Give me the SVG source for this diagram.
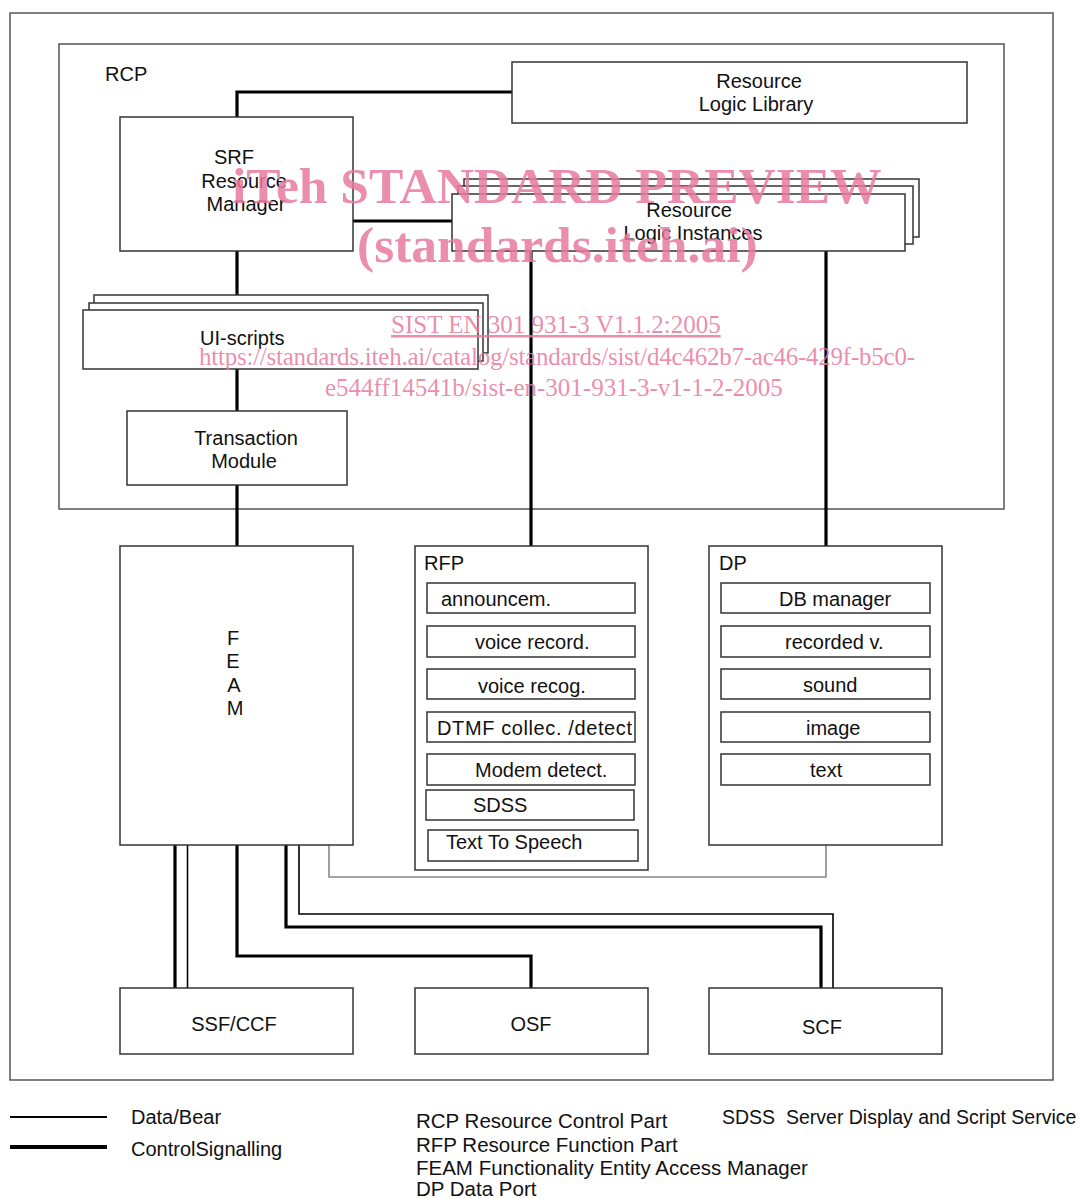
<svg xmlns="http://www.w3.org/2000/svg" width="1083" height="1198" viewBox="0 0 1083 1198">
<style>
  .frame { fill: none; stroke: #555; stroke-width: 1.5; }
  .box { fill: #fff; stroke: #333; stroke-width: 1.5; }
  .t { font-family: "Liberation Sans", Arial, sans-serif; font-size: 20px; fill: #111; }
  .lg { font-size: 20.5px; }
  .m { text-anchor: middle; }
  .thick { fill: none; stroke: #000; stroke-width: 3.2; }
  .thin { fill: none; stroke: #000; stroke-width: 1.6; }
  .gray { fill: none; stroke: #888; stroke-width: 1.6; }
  .wm { font-family: "Liberation Serif", "Times New Roman", serif; fill: #e8799d; fill-opacity: 0.85; }
  .wmb { font-weight: bold; font-size: 51.5px; }
  .wms { font-size: 25px; }
</style>
<rect x="0" y="0" width="1083" height="1198" fill="#fff"/>
<rect class="frame" x="10" y="13" width="1043" height="1067"/>
<g id="rcp">
  <rect class="frame" x="59" y="44" width="945" height="465"/>
  <text class="t" x="105" y="81">RCP</text>
</g>

<g id="connectors">
  <polyline class="thick" points="237,117 237,92 512,92"/>
  <line class="thick" x1="353" y1="221" x2="452" y2="221"/>
  <line class="thick" x1="237" y1="251" x2="237" y2="296"/>
  <line class="thick" x1="237" y1="369" x2="237" y2="411"/>
  <line class="thick" x1="237" y1="485" x2="237" y2="546"/>
  <line class="thick" x1="531" y1="251" x2="531" y2="546"/>
  <line class="thick" x1="826" y1="251" x2="826" y2="546"/>
  <line class="thick" x1="175" y1="845" x2="175" y2="988"/>
  <line class="thin" x1="187.5" y1="845" x2="187.5" y2="988"/>
  <polyline class="thick" points="237,845 237,956 531,956 531,988"/>
  <polyline class="thick" points="286,845 286,927 821,927 821,988"/>
  <polyline class="thin" points="299,845 299,914 833,914 833,988"/>
  <polyline class="gray" points="826,845 826,877 329,877 329,845"/>
</g>

<g id="resource-logic-library">
  <rect class="box" x="512" y="62" width="455" height="61"/>
  <text class="t m" x="759" y="88">Resource</text>
  <text class="t m" x="756" y="111">Logic Library</text>
</g>

<g id="srf-resource-manager">
  <rect class="box" x="120" y="117" width="233" height="134"/>
  <text class="t m" x="234" y="164">SRF</text>
  <text class="t m" x="244" y="188">Resource</text>
  <text class="t m" x="246" y="211">Manager</text>
</g>

<g id="resource-logic-instances">
  <rect class="box" x="464" y="179" width="455" height="58"/>
  <rect class="box" x="458" y="186" width="455" height="58"/>
  <rect class="box" x="452" y="194" width="453" height="57"/>
  <text class="t m" x="689" y="217">Resource</text>
  <text class="t m" x="693" y="240">Logic Instances</text>
</g>

<g id="ui-scripts">
  <rect class="box" x="94" y="295" width="394" height="58"/>
  <rect class="box" x="89" y="303" width="394" height="58"/>
  <rect class="box" x="83" y="310" width="395" height="59"/>
  <text class="t" x="200" y="345">UI-scripts</text>
</g>

<g id="transaction-module">
  <rect class="box" x="127" y="411" width="220" height="74"/>
  <text class="t m" x="246" y="445">Transaction</text>
  <text class="t m" x="244" y="468">Module</text>
</g>

<g id="feam">
  <rect class="box" x="120" y="546" width="233" height="299"/>
  <text class="t m" x="233" y="645">F</text>
  <text class="t m" x="233" y="668">E</text>
  <text class="t m" x="234" y="692">A</text>
  <text class="t m" x="235" y="715">M</text>
</g>

<g id="rfp">
  <rect class="box" x="415" y="546" width="233" height="324"/>
  <text class="t" x="424" y="570">RFP</text>
  <rect class="box" x="427" y="583" width="208" height="30"/>
  <text class="t" x="441" y="606">announcem.</text>
  <rect class="box" x="427" y="626" width="208" height="31"/>
  <text class="t" x="475" y="649">voice record.</text>
  <rect class="box" x="427" y="669" width="208" height="30"/>
  <text class="t" x="478" y="693">voice recog.</text>
  <rect class="box" x="427" y="712" width="208" height="30"/>
  <text class="t" x="437" y="735" textLength="195">DTMF collec. /detect</text>
  <rect class="box" x="427" y="754" width="208" height="31"/>
  <text class="t" x="475" y="777">Modem detect.</text>
  <rect class="box" x="426" y="790" width="208" height="30"/>
  <text class="t" x="473" y="812">SDSS</text>
  <rect class="box" x="428" y="830" width="210" height="31"/>
  <text class="t" x="446" y="849">Text To Speech</text>
</g>

<g id="dp">
  <rect class="box" x="709" y="546" width="233" height="299"/>
  <text class="t" x="719" y="570">DP</text>
  <rect class="box" x="721" y="583" width="209" height="30"/>
  <text class="t" x="779" y="606">DB manager</text>
  <rect class="box" x="721" y="626" width="209" height="31"/>
  <text class="t" x="785" y="649">recorded v.</text>
  <rect class="box" x="721" y="669" width="209" height="30"/>
  <text class="t" x="803" y="692">sound</text>
  <rect class="box" x="721" y="712" width="209" height="30"/>
  <text class="t" x="806" y="735">image</text>
  <rect class="box" x="721" y="754" width="209" height="31"/>
  <text class="t" x="810" y="777">text</text>
</g>

<g id="ssf-ccf">
  <rect class="box" x="120" y="988" width="233" height="66"/>
  <text class="t m" x="234" y="1031">SSF/CCF</text>
</g>
<g id="osf">
  <rect class="box" x="415" y="988" width="233" height="66"/>
  <text class="t m" x="531" y="1031">OSF</text>
</g>
<g id="scf">
  <rect class="box" x="709" y="988" width="233" height="66"/>
  <text class="t m" x="822" y="1034">SCF</text>
</g>

<g id="legend">
  <line x1="10" y1="1117" x2="107" y2="1117" stroke="#000" stroke-width="2"/>
  <line x1="10" y1="1147" x2="107" y2="1147" stroke="#000" stroke-width="4"/>
  <text class="t" x="131" y="1124">Data/Bear</text>
  <text class="t" x="131" y="1156">ControlSignalling</text>
  <text class="t lg" x="416" y="1128">RCP Resource Control Part</text>
  <text class="t lg" x="416" y="1152">RFP Resource Function Part</text>
  <text class="t lg" x="416" y="1175">FEAM Functionality Entity Access Manager</text>
  <text class="t lg" x="416" y="1196">DP Data Port</text>
  <text class="t" x="722" y="1124" style="font-size:19.5px">SDSS&#160; Server Display and Script Service</text>
</g>

<g id="watermark">
  <text class="wm wmb" x="232" y="203">iTeh STANDARD PREVIEW</text>
  <text class="wm wmb" x="357" y="262">(standards.iteh.ai)</text>
  <text class="wm wms" x="391" y="333" text-decoration="underline">SIST EN 301 931-3 V1.1.2:2005</text>
  <text class="wm wms" x="199" y="365" textLength="716">https://standards.iteh.ai/catalog/standards/sist/d4c462b7-ac46-429f-b5c0-</text>
  <text class="wm wms" x="325" y="396">e544ff14541b/sist-en-301-931-3-v1-1-2-2005</text>
</g>
</svg>
